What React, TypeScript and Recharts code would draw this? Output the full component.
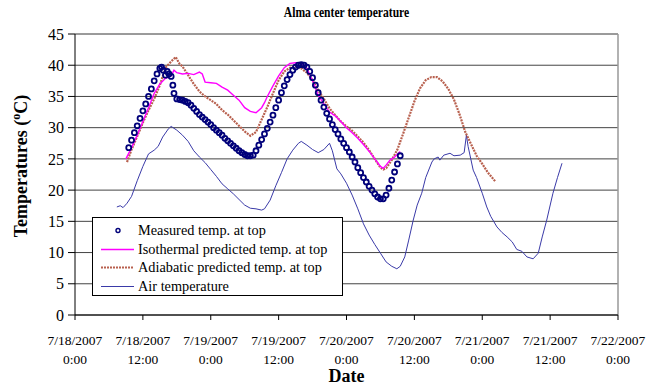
import React from 'react';
import { ComposedChart, Line, XAxis, YAxis, CartesianGrid, ReferenceLine } from 'recharts';

// hours since 7/18/2007 0:00
const measuredTime = [9.5,10,10.5,11,11.5,12,12.5,13,13.5,14,14.5,15,15.3,15.6,16,16.3,16.6,17,17.3,17.5,18,18.5,19,19.5,20,20.5,21,21.5,22,22.5,23,23.5,24,24.5,25,25.5,26,26.5,27,27.5,28,28.5,29,29.5,30,30.5,31,31.5,32,32.5,33,33.5,34,34.5,35,35.5,36,36.5,37,37.5,38,38.5,39,39.5,40,40.5,41,41.5,42,42.5,43,43.5,44,44.5,45,45.5,46,46.5,47,47.5,48,48.5,49,49.5,50,50.5,51,51.5,52,52.5,53,53.5,54,54.5,55,55.5,56,56.5,57,57.5];
const measuredTemp = [26.8,28,29.2,30.3,31.5,32.7,33.8,35,36.2,37.5,38.6,39.5,39.7,39.2,38.4,39,38.6,38.2,36.8,35.5,34.6,34.5,34.4,34.2,34,33.6,33.1,32.6,32.1,31.7,31.3,30.9,30.5,30,29.6,29.2,28.8,28.3,27.9,27.5,27.1,26.7,26.3,26,25.7,25.5,25.5,25.6,26.3,27.2,28.1,29,29.9,30.9,32,33.2,34.4,35.6,36.7,37.7,38.5,39.2,39.7,40,40.1,40,39.7,39,38,36.8,35.6,34.4,33.3,32.3,31.4,30.5,29.7,29,28.2,27.5,26.8,26.1,25.3,24.5,23.6,22.8,22,21.3,20.6,20,19.4,18.9,18.6,18.6,19.2,20.3,21.6,22.9,24.2,25.5];

const isoTime = [9,10,11,12,13,14,15,16,17,17.5,18,19,20,21,22,22.5,23,24,25,26,27,28,29,30,31,32,33,33.5,34,35,36,37,38,39,40,41,42,43,44,45,46,47,48,49,50,51,52,53,54,54.5,55,55.7,56.5,57.5];
const isoTemp = [25,26.8,28.8,31,33.2,35.5,37,37.9,38.3,39.2,38.8,38.6,38.7,38.5,38.9,38.6,37.3,37.2,37.1,36.5,36,35.2,34.4,33.2,32.6,32.4,33.2,34,35,36.7,38.3,39.6,40.3,40.4,40.4,39.5,37.5,35.2,33.8,32.5,31.9,31,30,29.2,28.3,27.3,26.2,25,23.8,23.5,24,24.8,25.3,26.2];

const adiTime = [9.2,10,11,12,13,14,15,16,17,17.8,18.5,19,20,21,22,23,24,25,26,27,28,29,30,31,32,33,34,35,36,37,38,39,40,41,42,43,44,45,46,47,48,49,50,51,52,53,54,54.5,55,56,57,58,59,60,61,62,63,64,65,66,67,68,69,70,71,72,73,74.3];
const adiTemp = [24.5,26.5,28.6,30.8,32.8,34.6,36.8,39.6,40.6,41.3,40.2,39.8,38.4,37,35.8,35,34.4,33.8,32.8,32.1,31.2,30.3,29.4,28.7,29.3,31.3,33.3,35.5,37.6,39,39.6,39.8,39.5,38.8,37.6,36,34.6,33.1,32,31,30.2,29.5,28.6,27.6,26.4,25,23.6,23.3,23.5,24.8,26.5,29,31.6,34.2,36.3,37.6,38.1,38.1,37.4,36.2,34.5,32.1,29.3,27.4,25.5,24.2,22.8,21.4];

const airTime = [7.4,8,8.5,9.2,10,11,12,13,14,14.7,15.5,16.5,17,18,19,20,21,22,23,24,25,26,27,28,29,30,31,32,33,33.5,34.5,35.5,36.5,37.5,38.5,39.5,40,41,42,43,44,45,45.5,46.3,47,48,49,50,51,52,53,54,55,56,56.9,57.5,58.3,59,59.8,60.5,61.3,62,63.1,63.5,64.2,64.5,65.2,66.3,67,68.1,68.8,69.2,69.5,70.4,71,72,72.8,73.5,74.6,75.5,76.4,77.3,78.1,79,79.9,81,81.9,82.6,83.4,84.5,85.3,86.1];
const airTemp = [17.3,17.5,17.2,17.9,19,21.5,23.8,25.8,26.4,27,28.5,29.8,30.2,29.6,28.8,27.8,26.3,25.3,24.4,23.3,22.2,21,20.2,19.4,18.5,17.6,17.1,17,16.8,17,18.4,20.7,22.8,25,26.4,27.5,27.8,27.2,26.5,26,26.5,27.5,26.3,23.4,22.6,21.1,19.2,17,14.6,12.8,11.3,9.9,8.5,7.8,7.4,7.8,9.3,12,15.2,17.6,19.5,22,24.5,25,25.3,24.8,25.6,25.9,25.5,25.6,26,28.8,27,23.2,22,19.5,17.3,15.8,14.1,13.2,12.5,11.7,10.5,10.2,9.3,9,9.9,12.5,15.2,19.5,22,24.3];

const xTicks = [0,12,24,36,48,60,72,84,96];
const xTickDates = ['7/18/2007','7/18/2007','7/19/2007','7/19/2007','7/20/2007','7/20/2007','7/21/2007','7/21/2007','7/22/2007'];
const xTickTimes = ['0:00','12:00','0:00','12:00','0:00','12:00','0:00','12:00','0:00'];
const yTicks = [0,5,10,15,20,25,30,35,40,45];

const seriesNames = ['Measured temp. at top','Isothermal predicted temp. at top','Adiabatic predicted temp. at top','Air temperature'];

const build = (t: number[], v: number[]) => t.map((h, i) => ({ h, v: v[i] }));
const measuredData = build(measuredTime, measuredTemp);
const isoData = build(isoTime, isoTemp);
const adiData = build(adiTime, adiTemp);
const airData = build(airTime, airTemp);

const FONT = '"Liberation Serif", "Times New Roman", serif';
const C_MEAS = '#00007a';
const C_ISO = '#ff00ff';
const C_ADI = '#b8604e';
const C_AIR = '#3a3aa8';

const XTick = (props: any) => {
  const { x, y, payload } = props;
  const i = xTicks.indexOf(payload.value);
  return (
    <text x={x} y={y} textAnchor="middle" fontFamily={FONT} fontSize={13.5} fill="#000">
      <tspan x={x} dy={22.5}>{xTickDates[i]}</tspan>
      <tspan x={x} dy={19}>{xTickTimes[i]}</tspan>
    </text>
  );
};

const Dot = (props: any) => {
  const { cx, cy, index } = props;
  if (cx == null || cy == null) return <g key={index} />;
  return <circle key={index} cx={cx} cy={cy} r={2.5} fill="none" stroke={C_MEAS} strokeWidth={1.8} />;
};

const LegendBox = () => (
  <div style={{ position: 'absolute', left: 92, top: 217, width: 249, height: 77, border: '1px solid #000', background: '#fff', fontFamily: FONT, fontSize: 14.3, color: '#000' }}>
    {seriesNames.map((n, i) => (
      <div key={n} style={{ position: 'absolute', left: 0, top: 3 + i * 18.5, height: 19, display: 'flex', alignItems: 'center' }}>
        <svg width={45} height={19} style={{ display: 'block' }}>
          {i === 0 && <circle cx={25} cy={9.5} r={2} fill="none" stroke={C_MEAS} strokeWidth={1.4} />}
          {i === 1 && <line x1={8} x2={41} y1={9.5} y2={9.5} stroke={C_ISO} strokeWidth={1.5} />}
          {i === 2 && <line x1={8} x2={41} y1={9.5} y2={9.5} stroke={C_ADI} strokeWidth={2} strokeDasharray="2 1" />}
          {i === 3 && <line x1={8} x2={41} y1={9.5} y2={9.5} stroke={C_AIR} strokeWidth={1} />}
        </svg>
        <span style={{ whiteSpace: 'nowrap' }}>{n}</span>
      </div>
    ))}
  </div>
);

export default function App() {
  return (
    <div style={{ position: 'absolute', left: 0, top: 0, width: 662, height: 389, background: '#fff' }}>
      <div style={{ position: 'absolute', left: 75, width: 543, top: 3, textAlign: 'center', fontFamily: FONT, fontWeight: 'bold', fontSize: 15.5, transform: 'scaleX(0.75)', transformOrigin: 'center top' }}>Alma center temperature</div>
      <div style={{ position: 'absolute', left: 75, width: 543, top: 366, textAlign: 'center', fontFamily: FONT, fontWeight: 'bold', fontSize: 18 }}>Date</div>
      <ComposedChart width={662} height={389} margin={{ top: 34, right: 44, bottom: 0, left: 0 }}>
        <CartesianGrid vertical={false} stroke="#444" strokeWidth={1} />
        <XAxis type="number" dataKey="h" domain={[0, 96]} ticks={xTicks} interval={0} height={74}
          tick={<XTick />} tickSize={5} stroke="#000" axisLine={{ stroke: '#000' }} tickLine={{ stroke: '#000' }} allowDataOverflow />
        <YAxis type="number" domain={[0, 45]} ticks={yTicks} interval={0} width={75} tickSize={7} tickMargin={4}
          tick={{ fontFamily: FONT, fontSize: 16, fill: '#000' }} stroke="#000" axisLine={{ stroke: '#000' }} tickLine={{ stroke: '#000' }}
          label={{ content: () => (
            <text transform="translate(27,166) rotate(-90)" textAnchor="middle" fontFamily={FONT} fontWeight="bold" fontSize={18} fill="#000">
              Temperatures (<tspan dy={-7} fontSize={12}>o</tspan><tspan dy={7}>C)</tspan>
            </text>
          ) }} />
        <ReferenceLine x={96} stroke="#999" strokeWidth={1.5} />
        <ReferenceLine y={45} stroke="#999" strokeWidth={1.5} />
        <Line data={airData} dataKey="v" type="linear" stroke={C_AIR} strokeWidth={1} dot={false} isAnimationActive={false} />
        <Line data={adiData} dataKey="v" type="linear" stroke={C_ADI} strokeWidth={2.2} strokeDasharray="2 1" dot={false} isAnimationActive={false} />
        <Line data={isoData} dataKey="v" type="linear" stroke={C_ISO} strokeWidth={1.4} dot={false} isAnimationActive={false} />
        <Line data={measuredData} dataKey="v" type="linear" stroke="none" dot={<Dot />} activeDot={false} isAnimationActive={false} />
      </ComposedChart>
      <LegendBox />
    </div>
  );
}
